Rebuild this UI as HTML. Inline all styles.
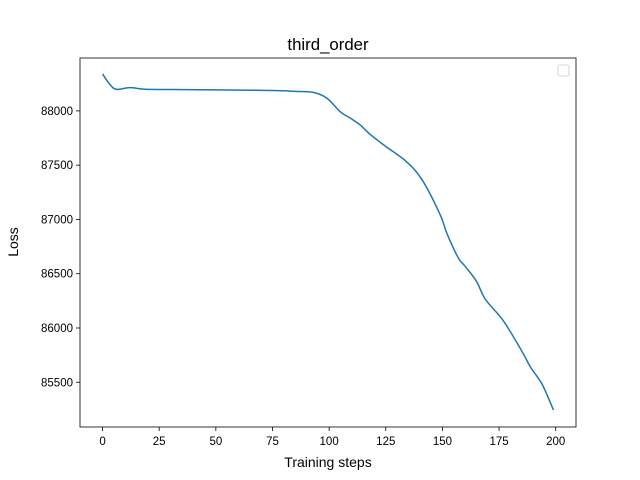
<!DOCTYPE html>
<html><head><meta charset="utf-8"><style>body{margin:0;background:#fff}svg{display:block;font-family:"Liberation Sans","DejaVu Sans",sans-serif}</style></head>
<body>
<svg id="chart" width="640" height="480">
<rect x="0" y="0" width="640" height="480" fill="#fff"/>
<text x="328" y="50" font-size="16.8" text-anchor="middle">third_order</text>
<text x="328" y="467" font-size="14" text-anchor="middle">Training steps</text>
<text transform="translate(18,242) rotate(-90)" font-size="14" text-anchor="middle">Loss</text>
<g id="ticks"></g>
<path id="line" fill="none" stroke="#1f77b4" stroke-width="1.5" stroke-linejoin="round"/>
<rect x="80" y="58" width="496" height="369" fill="none" stroke="#000" stroke-width="0.8"/>
<rect x="558" y="65" width="11" height="11" rx="2" fill="#fff" stroke="#ccc" stroke-width="0.8"/>
</svg>
<script>
const steps=[0,3,6,12,19,30,50,75,85,93,99,105,110,114,118,125,134,141,149,152,157,160,165,169,177,185,189,194,199];
const losses=[88340,88250,88199,88214,88199,88197,88193,88188,88180,88170,88117,87990,87925,87865,87785,87672,87534,87366,87044,86870,86646,86569,86431,86263,86063,85788,85635,85482,85245];
const xTicks=[0,25,50,75,100,125,150,175,200];
const yTicks=[85500,86000,86500,87000,87500,88000];
const X0=80,X1=576,Y0=58,Y1=427;
const xmin=-9.95,xmax=208.95,ymin=85088,ymax=88487;
function sx(v){return X0+(v-xmin)/(xmax-xmin)*(X1-X0);}
function sy(v){return Y1-(v-ymin)/(ymax-ymin)*(Y1-Y0);}
const ns="http://www.w3.org/2000/svg";
const g=document.getElementById('ticks');
function mk(t,a){const e=document.createElementNS(ns,t);for(const k in a)e.setAttribute(k,a[k]);return e;}
xTicks.forEach(v=>{
  const l=mk('line',{x1:sx(v),x2:sx(v),y1:Y1,y2:Y1+4,stroke:'#000','stroke-width':0.8});
  
  
  g.appendChild(l);
  const t=mk('text',{x:sx(v),y:Y1+18,'font-size':11.5,'text-anchor':'middle'});
  
  
  t.textContent=v;g.appendChild(t);
});
yTicks.forEach(v=>{
  const l=mk('line',{x1:X0-4,x2:X0,y1:sy(v),y2:sy(v),stroke:'#000','stroke-width':0.8});
  
  
  g.appendChild(l);
  const t=mk('text',{x:X0-7,y:sy(v)+4,'font-size':11.5,'text-anchor':'end'});
  
  
  t.textContent=v;g.appendChild(t);
});
// smooth path (Catmull-Rom)
const P=steps.map((s,i)=>[sx(s),sy(losses[i])]);
let d='M'+P[0][0]+','+P[0][1];
for(let i=0;i<P.length-1;i++){
  const p0=P[Math.max(0,i-1)],p1=P[i],p2=P[i+1],p3=P[Math.min(P.length-1,i+2)];
  const c1=[p1[0]+(p2[0]-p0[0])/6,p1[1]+(p2[1]-p0[1])/6];
  const c2=[p2[0]-(p3[0]-p1[0])/6,p2[1]-(p3[1]-p1[1])/6];
  d+=' C'+c1+' '+c2+' '+p2;
}
document.getElementById('line').setAttribute('d',d);
</script>
</body></html>
